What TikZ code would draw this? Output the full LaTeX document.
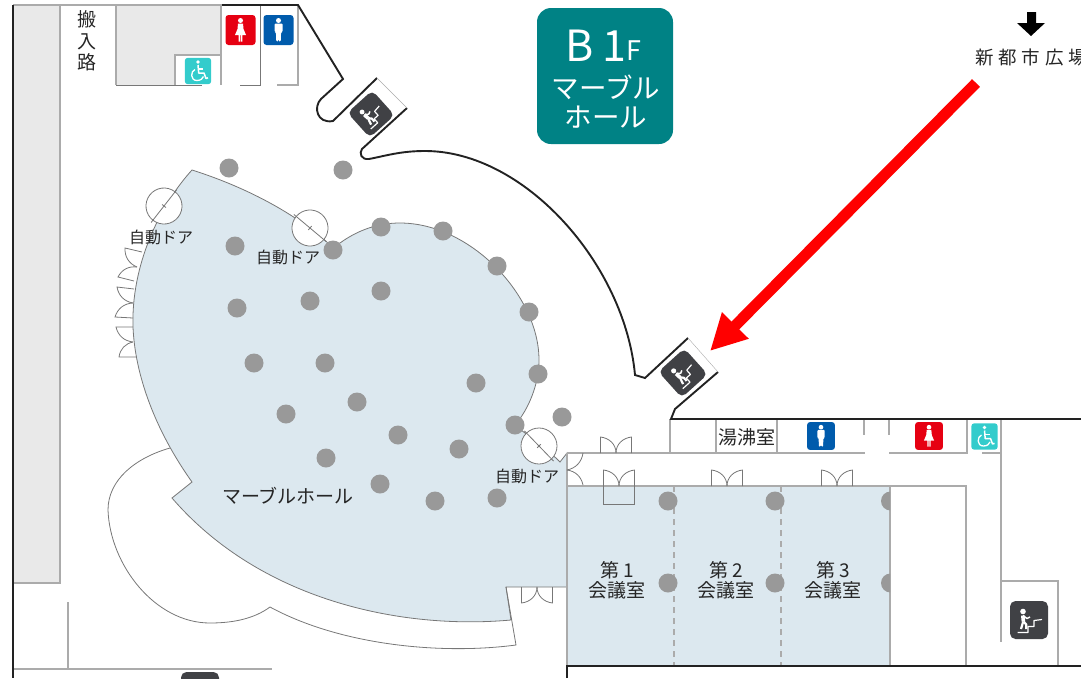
\documentclass[tikz,border=0pt]{standalone}
\usepackage{fontspec}
\usepackage{xcolor}
\usetikzlibrary{arrows.meta}
\newfontfamily\cjk{Noto Sans CJK JP}
\newfontfamily\cjkwide[LetterSpace=26]{Noto Sans CJK JP}
\definecolor{hallblue}{HTML}{DCE8EF}
\definecolor{stripgray}{HTML}{E9E9E9}
\definecolor{columngray}{HTML}{999999}
\definecolor{walldark}{HTML}{222222}
\definecolor{wallgray}{HTML}{ABABAB}
\definecolor{thingray}{HTML}{777777}
\definecolor{signteal}{HTML}{008285}
\definecolor{signred}{HTML}{E60012}
\definecolor{signblue}{HTML}{005BAC}
\definecolor{signaqua}{HTML}{33CCCC}
\definecolor{signdark}{HTML}{404145}
\tikzset{
	wall/.style={draw=walldark, line width=1.9pt},
	graywall/.style={draw=wallgray, line width=1.3pt},
	thinline/.style={draw=thingray, line width=0.8pt},
	column/.style={circle, fill=columngray, inner sep=0pt, minimum size=19pt},
	roomtext/.style={font=\cjk\fontsize{19}{20}\selectfont, text=black!85, inner sep=0pt},
	doortext/.style={font=\cjk\fontsize{16}{18}\selectfont, text=black!85, inner sep=0pt},
	signtext/.style={font=\cjk\fontsize{27.5}{29}\selectfont, text=white, inner sep=0pt},
	autodoor/.pic={
			\draw[thinline, fill=white] (0,0) circle (18);
			\draw[thinline] (-21,0) -- (21,0);
			\draw[thinline] (0,-2.5) -- (0,2.5);
		},
	doorpair/.pic={
			\draw[thinline] (-15.5,0) -- (-15.5,-16) .. controls (-7,-15) and (0,-9) .. (0,0);
			\draw[thinline] (15.5,0) -- (15.5,-16) .. controls (7,-15) and (0,-9) .. (0,0);
		},
	manicon/.pic={
			\fill[signblue, rounded corners=3] (-15,-15) rectangle (15,15);
			\fill[white] (0,-9.5) circle (2.5);
			\fill[white, rounded corners=1] (-4,-6.5) -- (4,-6.5) -- (4,2) -- (2.6,2) -- (2.2,11.5) -- (0.3,11.5) -- (0,3) -- (-0.3,11.5) -- (-2.2,11.5) -- (-2.6,2) -- (-4,2) -- cycle;
		},
	womanicon/.pic={
			\fill[signred, rounded corners=3] (-15,-15) rectangle (15,15);
			\fill[white] (0,-9.5) circle (2.5);
			\fill[white] (-2.5,-6.5) -- (2.5,-6.5) -- (3,-1) -- (5.5,5) -- (1.8,5) -- (1.8,11.5) -- (0.4,11.5) -- (0.4,5) -- (-0.4,5) -- (-0.4,11.5) -- (-1.8,11.5) -- (-1.8,5) -- (-5.5,5) -- (-3,-1) -- cycle;
		},
	chairicon/.pic={
			\fill[signaqua, rounded corners=3] (-13.2,-13.2) rectangle (13.2,13.2);
			\fill[white] (0,-9) circle (1.8);
			\draw[white, line width=1.5pt, line join=round] (0,-6) -- (0.7,2) -- (6,2) -- (8,7.5) -- (10,6.8);
			\draw[white, line width=1.2pt] (0.5,-2) -- (5,-2);
			\draw[white, line width=1.3pt] (-3,-1.5) .. controls (-7.5,0) and (-8,9.5) .. (-1,9.5) .. controls (2.5,9.5) and (5,7.5) .. (5.5,5.5);
		},
	stairicon/.pic={
			\fill[signdark, rounded corners=5.5] (-19,-19) rectangle (19,19);
			\fill[white] (-6,-8.5) circle (2.8);
			\draw[white, line width=3.6pt, line join=round] (-6.2,-4.5) -- (-5.6,1.5);
			\draw[white, line width=2.2pt, line join=round] (-5.8,1.5) -- (-8,9);
			\draw[white, line width=2.2pt, line join=round] (-5.4,1.5) -- (-2.8,4.5) -- (-2.8,9);
			\draw[white, line width=1.5pt, line join=round] (-6,-4.5) -- (-2,-1.5) -- (1,-3);
			\draw[white, line width=1.2pt, line join=round] (-11.5,12.5) -- (-1,12.5) -- (-1,6.5) -- (5,6.5) -- (5,0.5) -- (13,-0.5);
		},
}
\begin{document}
\begin{tikzpicture}[x=1pt, y=-1pt]
	\useasboundingbox (0,0) rectangle (1081,678);
	\clip (0,0) rectangle (1081,678);

	% Grey areas at the top left
	\fill[stripgray] (13,5) rectangle (60,583);
	\fill[stripgray] (116,5) -- (221,5) -- (221,55) -- (175,55) -- (175,85) -- (116,85) -- cycle;

	% Marble hall
	\path[fill=hallblue, thinline] (192,170) .. controls (230,182) and (285,205) .. (328,243)
		-- (340,243) .. controls (358,230) and (378,223) .. (400,223)
		.. controls (470,223) and (539,295) .. (539,360)
		.. controls (539,385) and (528,410) .. (515,425)
		-- (556,458) -- (560,462) -- (567,453) -- (567,587) -- (506,587) -- (511,620)
		.. controls (400,630) and (260,600) .. (172,498)
		-- (192,482)
		.. controls (155,430) and (135,375) .. (133,327)
		.. controls (131,265) and (160,205) .. (192,170) -- cycle;

	% Meeting rooms
	\fill[hallblue] (567,486) rectangle (890,666);
	\draw[graywall, dashed, dash pattern=on 6pt off 5pt] (674,486) -- (674,666);
	\draw[graywall, dashed, dash pattern=on 6pt off 5pt] (781,486) -- (781,666);

	% Curved outer line below the hall
	\draw[thinline] (170,448) .. controls (135,458) and (108,480) .. (108,510)
		.. controls (110,565) and (155,623) .. (210,623)
		.. controls (235,623) and (255,618) .. (270,607)
		.. controls (340,645) and (440,655) .. (516,645) -- (506,587);

	% Grey walls
	\draw[graywall] (13,5) -- (222,5);
	\draw[graywall] (60,5) -- (60,583) -- (13,583);
	\draw[graywall] (116,5) -- (116,85);
	\draw[thingray, line width=1pt] (116,85) -- (202,85);
	\draw[graywall] (175,85) -- (175,55) -- (221,55);
	\draw[graywall] (221,5) -- (221,85);
	\draw[thingray, line width=1pt] (260,5) -- (260,85) -- (240,85);
	\draw[graywall] (298,5) -- (298,85) -- (277,85);
	\draw[graywall] (68,602) -- (68,669);
	\draw[graywall] (13,669) -- (272,669);
	\draw[graywall] (567,453) -- (865,453);
	\draw[graywall] (889,453) -- (967,453) -- (967,419);
	\draw[graywall] (982,453) -- (1001,453);
	\draw[graywall] (670,419) -- (670,453);
	\draw[graywall] (716,419) -- (716,453);
	\draw[graywall] (777,419) -- (777,453);
	\draw[graywall] (864,419) -- (864,435);
	\draw[graywall] (889,419) -- (889,435);
	\draw[graywall] (567,486) -- (966,486) -- (966,666);
	\draw[graywall] (567,453) -- (567,666);
	\draw[graywall] (890,486) -- (890,666);
	\draw[graywall] (1001,419) -- (1001,642);
	\draw[graywall] (1001,581) -- (1058,581) -- (1058,666);

	% Dark walls
	\draw[wall] (13,5) -- (13,678);
	\draw[wall] (222,5) -- (298,5) -- (343,79) -- (321,99) .. controls (313,107) and (317,124) .. (333,121) -- (377,78);
	\draw[wall] (407,108) -- (362,149) .. controls (359,153) and (361,160) .. (369,159)
		.. controls (385,156) and (400,151) .. (425,151)
		.. controls (525,151) and (625,265) .. (635,375)
		-- (645,378) -- (688,338);
	\draw[wall] (718,372) -- (675,409) -- (671,419) -- (1081,419);
	\draw[wall] (567,678) -- (567,666) -- (1081,666);
	\draw[draw=wallgray, line width=0.4pt] (377,78) -- (407,108);
	\draw[draw=wallgray, line width=0.4pt] (688,338) -- (718,372);

	% Doors on the left of the hall
	\draw[thinline] (142,252) -- (125,248) to[bend right=35] (137,267);
	\draw[thinline] (137,267) to[bend right=35] (118,277) -- (134,281);
	\draw[thinline] (134,289) -- (117,287) to[bend right=35] (133,303);
	\draw[thinline] (133,303) to[bend right=35] (115,317) -- (133,318);
	\draw[thinline] (133,327) -- (116,327) to[bend right=35] (133,342);
	\draw[thinline] (133,342) to[bend right=35] (119,357) -- (136,357);

	% Other doors
	\pic at (616,453) {doorpair};
	\pic at (619,486) {doorpair};
	\pic at (727,486) {doorpair};
	\pic at (837,486) {doorpair};
	\pic[yscale=-1] at (537,587) {doorpair};
	\draw[thinline] (583,453) to[bend left=35] (567,470);
	\draw[thinline] (567,470) to[bend left=35] (583,485);
	\draw[thinline] (603,486) -- (603,504) -- (634,504) -- (634,486);

	% Automatic doors
	\pic[rotate=52] at (164,206) {autodoor};
	\pic[rotate=-40] at (310,228) {autodoor};
	\pic[rotate=-46] at (539,446) {autodoor};

	% Columns
	\foreach \cx/\cy [count=\n] in {229/168,343/170,235/246,333/250,381/227,443/231,497/266,237/308,310/301,381/291,529/312,254/363,325/363,538/374,476/383,286/414,357/402,515/425,562/417,398/435,459/449,326/458,380/484,435/501,497/498,668/501,775/501,668/583,775/583}
		\node[column] (col\n) at (\cx,\cy) {};
	\begin{scope}
		\clip (567,486) rectangle (890,666);
		\node[column] (colA) at (890.5,501) {};
		\node[column] (colB) at (890.5,583) {};
	\end{scope}

	% Signs
	\pic at (240.5,30) {womanicon};
	\pic at (278.5,30) {manicon};
	\pic at (198,71) {chairicon};
	\pic[scale=0.93] at (821,436) {manicon};
	\pic[scale=0.93] at (929,436) {womanicon};
	\pic at (984.5,436.5) {chairicon};
	\pic[rotate=42, scale=0.88] at (371,114) {stairicon};
	\pic[rotate=42, scale=0.92] at (683,373) {stairicon};
	\pic at (1029,620) {stairicon};
	\pic at (200,691) {stairicon};

	% Floor sign
	\fill[signteal, rounded corners=14] (537,8) rectangle (673,144);
	\node[anchor=base west, font=\cjk\fontsize{43}{46}\selectfont, text=white, inner sep=0pt] (floorname) at (565,61) {B\hspace{9pt}1};
	\node[anchor=base west, font=\cjk\fontsize{27}{28}\selectfont, text=white, inner sep=0pt] (floorunit) at (626,60) {F};
	\node[signtext] (signA) at (606,87) {マーブル};
	\node[signtext] (signB) at (606,117) {ホール};

	% Texts
	\node[roomtext, align=center] (loading) at (87,41) {搬\\[1.5pt]入\\[1.5pt]路};
	\node[doortext] (doorA) at (161,237) {自動ドア};
	\node[doortext] (doorB) at (288,257) {自動ドア};
	\node[doortext] (doorC) at (527,476) {自動ドア};
	\node[roomtext] (hall) at (288,496) {マーブルホール};
	\node[roomtext] (kitchen) at (747,437) {湯沸室};
	\node[roomtext, align=center] (roomA) at (617,580) {第 1\\会議室};
	\node[roomtext, align=center] (roomB) at (726,580) {第 2\\会議室};
	\node[roomtext, align=center] (roomC) at (833,580) {第 3\\会議室};
	\node[anchor=west, inner sep=0pt, text=black!85, font=\cjkwide\fontsize{18.5}{20}\selectfont] (plaza) at (975,57) {新都市広場};

	% Arrows
	\fill[black] (1027,12) -- (1036,12) -- (1036,23) -- (1045,23) -- (1031,36) -- (1017,23) -- (1027,23) -- cycle;
	\coordinate (arrowtail) at (976,83);
	\coordinate (arrowtip) at (710,351);
	\draw[red, line width=11pt, -{Triangle[length=36pt, width=35pt]}] (arrowtail) -- (arrowtip);
\end{tikzpicture}
\end{document}
